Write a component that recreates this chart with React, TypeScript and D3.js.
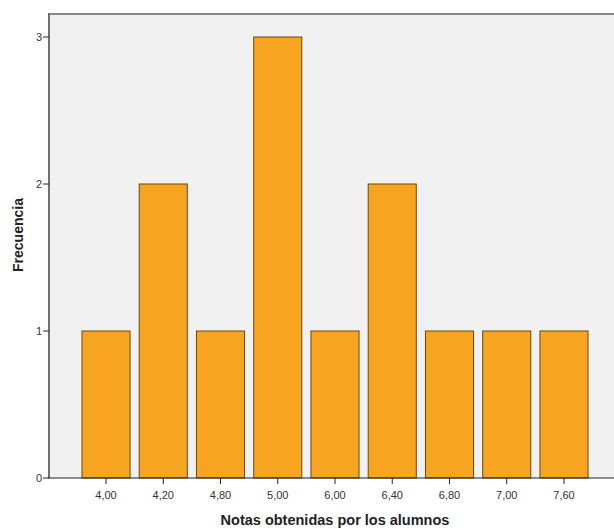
import React from "react";
import * as d3 from "d3";

const categories = ["4,00", "4,20", "4,80", "5,00", "6,00", "6,40", "6,80", "7,00", "7,60"];
const frequencies = [1, 2, 1, 3, 1, 2, 1, 1, 1];
const yTicks = [0, 1, 2, 3];
const xTitle = "Notas obtenidas por los alumnos";
const yTitle = "Frecuencia";

export default function App() {
  const W = 614, H = 529;
  const plotLeft = 49, plotTop = 14, plotRight = 614, plotBottom = 478;
  const x = d3.scaleBand<string>().domain(categories).range([77.4, 592.6]).paddingInner(0.16).paddingOuter(0.08);
  const y = d3.scaleLinear().domain([0, 3]).range([plotBottom, 37]);
  return (
    <svg width={W} height={H} style={{ position: "absolute", left: 0, top: 0, fontFamily: "Arial, 'Liberation Sans', sans-serif" }}>
      <rect x={plotLeft} y={plotTop} width={plotRight - plotLeft} height={plotBottom - plotTop} fill="#f1f1f1" />
      <line x1={plotLeft} x2={plotRight} y1={plotTop} y2={plotTop} stroke="#8a8a8a" strokeWidth={2} />
      {categories.map((c, i) => (
        <rect key={c} x={x(c)} y={y(frequencies[i])} width={x.bandwidth()} height={plotBottom - y(frequencies[i])}
          fill="#f7a521" stroke="#6b4a10" strokeWidth={1} />
      ))}
      <line x1={plotLeft} x2={plotLeft} y1={plotTop - 1} y2={plotBottom} stroke="#707070" strokeWidth={2} />
      <line x1={plotLeft - 1} x2={plotRight} y1={plotBottom} y2={plotBottom} stroke="#222" strokeWidth={1.2} />
      {yTicks.map(t => (
        <g key={t}>
          <line x1={plotLeft - 6} x2={plotLeft} y1={y(t)} y2={y(t)} stroke="#222" strokeWidth={1} />
          <text x={plotLeft - 7} y={y(t)} dy="0.35em" textAnchor="end" fontSize={11} fill="#333">{t}</text>
        </g>
      ))}
      {categories.map(c => {
        const cx = (x(c) as number) + x.bandwidth() / 2;
        return (
          <g key={c}>
            <line x1={cx} x2={cx} y1={plotBottom} y2={plotBottom + 6} stroke="#222" strokeWidth={1} />
            <text x={cx} y={plotBottom + 17} dy="0.35em" textAnchor="middle" fontSize={11} fill="#333">{c}</text>
          </g>
        );
      })}
      <text x={335} y={520} dy="0.35em" textAnchor="middle" fontSize={14.5} fontWeight="bold" fill="#222">{xTitle}</text>
      <text transform="translate(18,235) rotate(-90)" dy="0.35em" textAnchor="middle" fontSize={14} fontWeight="bold" fill="#222">{yTitle}</text>
    </svg>
  );
}
